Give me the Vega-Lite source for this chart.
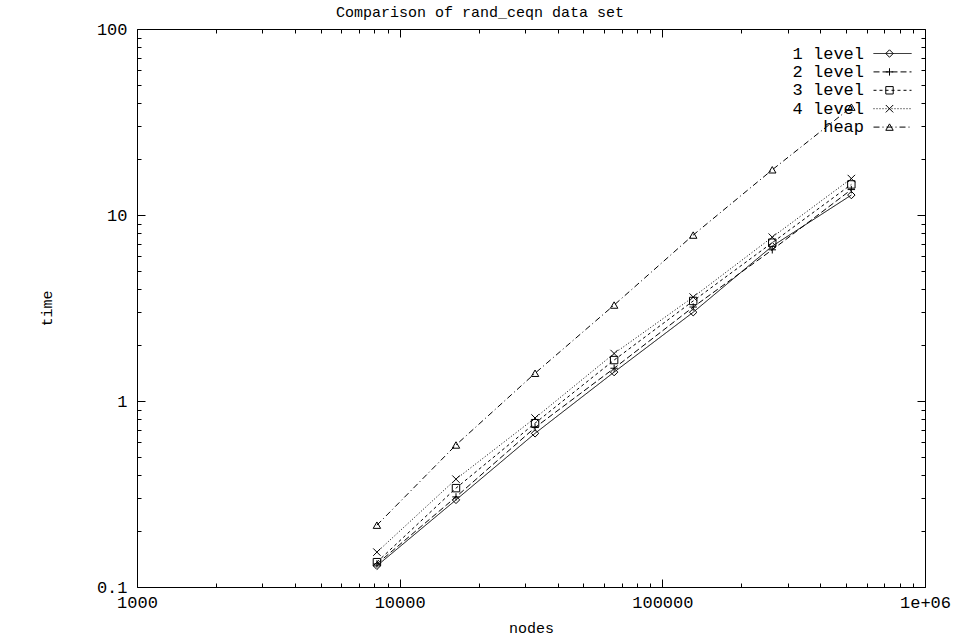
{
  "$schema": "https://vega.github.io/schema/vega-lite/v6.json",
  "autosize": "none",
  "width": 788,
  "height": 558,
  "padding": {"left": 137, "top": 29, "right": 32, "bottom": 51},
  "background": "white",
  "title": {"text": "Comparison of rand_ceqn data set", "font": "Liberation Mono", "fontSize": 15, "fontWeight": "normal", "color": "black", "offset": 0, "dx": -51, "anchor": "middle"},
  "config": {
    "view": {"stroke": "black", "strokeWidth": 1},
    "axis": {"grid": false, "domain": false, "labelFont": "Liberation Mono", "labelFontSize": 17, "labelColor": "black", "labelFlush": false, "titleFont": "Liberation Mono", "titleFontSize": 15, "titleFontWeight": "normal", "titleColor": "black", "tickColor": "black"},
    "legend": {"labelFont": "Liberation Mono", "labelFontSize": 17, "labelColor": "black"}
  },
  "data": {"values": [
    {"nodes": 8192, "time": 0.130, "series": "1 level"},
    {"nodes": 16384, "time": 0.294, "series": "1 level"},
    {"nodes": 32768, "time": 0.67, "series": "1 level"},
    {"nodes": 65536, "time": 1.43, "series": "1 level"},
    {"nodes": 131072, "time": 3.0, "series": "1 level"},
    {"nodes": 262144, "time": 6.8, "series": "1 level"},
    {"nodes": 524288, "time": 12.8, "series": "1 level"},
    {"nodes": 8192, "time": 0.133, "series": "2 level"},
    {"nodes": 16384, "time": 0.305, "series": "2 level"},
    {"nodes": 32768, "time": 0.72, "series": "2 level"},
    {"nodes": 65536, "time": 1.5, "series": "2 level"},
    {"nodes": 131072, "time": 3.2, "series": "2 level"},
    {"nodes": 262144, "time": 6.5, "series": "2 level"},
    {"nodes": 524288, "time": 13.7, "series": "2 level"},
    {"nodes": 8192, "time": 0.136, "series": "3 level"},
    {"nodes": 16384, "time": 0.34, "series": "3 level"},
    {"nodes": 32768, "time": 0.76, "series": "3 level"},
    {"nodes": 65536, "time": 1.66, "series": "3 level"},
    {"nodes": 131072, "time": 3.45, "series": "3 level"},
    {"nodes": 262144, "time": 7.1, "series": "3 level"},
    {"nodes": 524288, "time": 14.6, "series": "3 level"},
    {"nodes": 8192, "time": 0.154, "series": "4 level"},
    {"nodes": 16384, "time": 0.38, "series": "4 level"},
    {"nodes": 32768, "time": 0.81, "series": "4 level"},
    {"nodes": 65536, "time": 1.8, "series": "4 level"},
    {"nodes": 131072, "time": 3.62, "series": "4 level"},
    {"nodes": 262144, "time": 7.6, "series": "4 level"},
    {"nodes": 524288, "time": 15.7, "series": "4 level"},
    {"nodes": 8192, "time": 0.215, "series": "heap"},
    {"nodes": 16384, "time": 0.58, "series": "heap"},
    {"nodes": 32768, "time": 1.41, "series": "heap"},
    {"nodes": 65536, "time": 3.28, "series": "heap"},
    {"nodes": 131072, "time": 7.8, "series": "heap"},
    {"nodes": 262144, "time": 17.5, "series": "heap"},
    {"nodes": 524288, "time": 38.0, "series": "heap"}
  ]},
  "resolve": {"scale": {"x": "shared", "y": "shared"}, "axis": {"x": "independent", "y": "independent"}},
  "layer": [
    {
      "mark": {"type": "line", "color": "black", "strokeWidth": 1},
      "encoding": {
        "x": {"field": "nodes", "type": "quantitative", "scale": {"type": "log", "domain": [1000, 1000000], "nice": false},
              "axis": {"orient": "bottom", "title": "nodes", "titlePadding": 10, "values": [1000, 10000, 100000, 1000000], "tickSize": -8, "labelPadding": 15, "labelExpr": "datum.value == 1000000 ? '1e+06' : format(datum.value, 'd')"}},
        "y": {"field": "time", "type": "quantitative", "scale": {"type": "log", "domain": [0.1, 100], "nice": false},
              "axis": {"orient": "left", "title": "time", "titlePadding": 42, "values": [0.1, 1, 10, 100], "tickSize": -8, "labelPadding": 18, "labelExpr": "datum.value < 1 ? '0.1' : format(datum.value, 'd')"}},
        "strokeDash": {"field": "series", "type": "nominal",
              "scale": {"domain": ["1 level", "2 level", "3 level", "4 level", "heap"], "range": [[1, 0], [6, 3], [3, 3], [1, 2], [6, 3, 1, 3]]},
              "legend": {"title": null, "orient": "none", "legendX": 747, "legendY": 16, "padding": 0, "symbolType": "M-7.6,0L7.6,0", "symbolSize": 25, "symbolStrokeColor": "black", "symbolFillColor": "transparent", "symbolStrokeWidth": 1, "labelAlign": "right", "labelOffset": -37, "rowPadding": 0.4}},
        "detail": {"field": "series"}
      }
    },
    {
      "mark": {"type": "point", "filled": false, "color": "black", "strokeWidth": 1, "size": 55, "opacity": 1},
      "encoding": {
        "x": {"field": "nodes", "type": "quantitative", "axis": {"orient": "bottom", "title": null, "labels": false, "tickSize": -4, "values": [2000, 3000, 4000, 5000, 6000, 7000, 8000, 9000, 20000, 30000, 40000, 50000, 60000, 70000, 80000, 90000, 200000, 300000, 400000, 500000, 600000, 700000, 800000, 900000]}},
        "y": {"field": "time", "type": "quantitative", "axis": {"orient": "left", "title": null, "labels": false, "tickSize": -4, "values": [0.2, 0.3, 0.4, 0.5, 0.6, 0.7, 0.8, 0.9, 2, 3, 4, 5, 6, 7, 8, 9, 20, 30, 40, 50, 60, 70, 80, 90]}},
        "shape": {"field": "series", "type": "nominal",
              "scale": {"range": ["diamond", "M-1,0L1,0M0,-1L0,1", "square", "M-1,-1L1,1M-1,1L1,-1", "triangle-up"]},
              "legend": {"title": null, "orient": "none", "legendX": 744, "legendY": 16, "padding": 0, "symbolSize": 55, "symbolStrokeColor": "black", "symbolFillColor": "transparent", "symbolStrokeWidth": 1, "labelExpr": "''", "rowPadding": 0.4}}
      }
    },
    {
      "mark": {"type": "point", "opacity": 0},
      "encoding": {
        "x": {"field": "nodes", "type": "quantitative", "axis": {"orient": "top", "title": null, "labels": false, "tickSize": -8, "values": [1000, 10000, 100000, 1000000]}},
        "y": {"field": "time", "type": "quantitative", "axis": {"orient": "right", "title": null, "labels": false, "tickSize": -8, "values": [0.1, 1, 10, 100]}}
      }
    },
    {
      "mark": {"type": "point", "opacity": 0},
      "encoding": {
        "x": {"field": "nodes", "type": "quantitative", "axis": {"orient": "top", "title": null, "labels": false, "tickSize": -4, "values": [2000, 3000, 4000, 5000, 6000, 7000, 8000, 9000, 20000, 30000, 40000, 50000, 60000, 70000, 80000, 90000, 200000, 300000, 400000, 500000, 600000, 700000, 800000, 900000]}},
        "y": {"field": "time", "type": "quantitative", "axis": {"orient": "right", "title": null, "labels": false, "tickSize": -4, "values": [0.2, 0.3, 0.4, 0.5, 0.6, 0.7, 0.8, 0.9, 2, 3, 4, 5, 6, 7, 8, 9, 20, 30, 40, 50, 60, 70, 80, 90]}}
      }
    }
  ]
}
